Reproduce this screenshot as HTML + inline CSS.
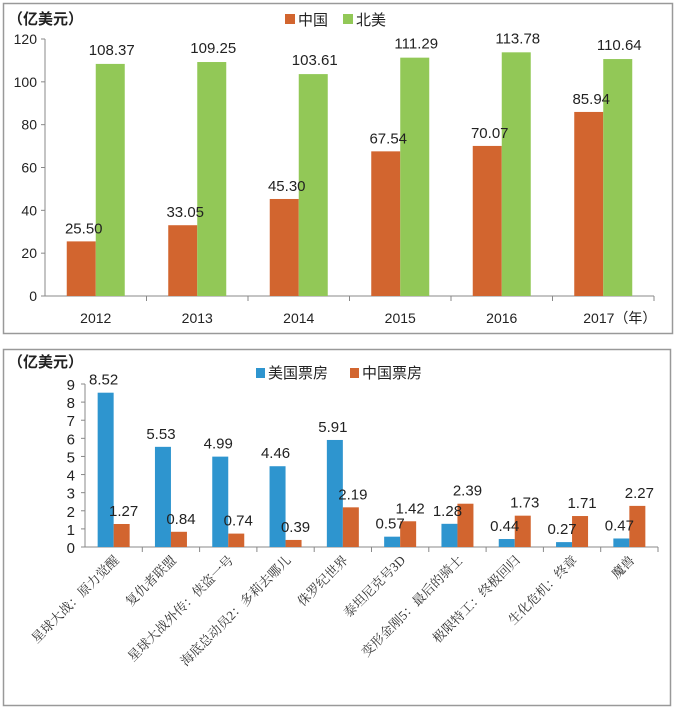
<!DOCTYPE html>
<html><head><meta charset="utf-8"><style>
body{margin:0;background:#fff;width:700px;height:710px;overflow:hidden}
svg{display:block}
text{font-family:"Liberation Sans","Noto Sans CJK SC",sans-serif;fill:#222}
.cat{font-family:"Liberation Serif","Noto Serif CJK SC",serif;font-size:13px;fill:#333}
</style></head><body>
<svg id="s" width="700" height="710">
<rect x="3.5" y="3.5" width="669" height="330" fill="#fff" stroke="#999" stroke-width="1.5"/>
<rect x="3.5" y="349.5" width="667" height="356" fill="#fff" stroke="#999" stroke-width="1.5"/>
<text x="8" y="24" font-size="15" font-weight="bold">（亿美元）</text>
<rect x="285" y="14" width="10" height="10" fill="#d2652f"/>
<text x="298" y="25" font-size="15">中国</text>
<rect x="343" y="14" width="10" height="10" fill="#92c857"/>
<text x="356" y="25" font-size="15">北美</text>
<text x="8" y="367" font-size="15" font-weight="bold">（亿美元）</text>
<rect x="256" y="368" width="9" height="10" fill="#2e95cf"/>
<text x="268" y="378" font-size="15">美国票房</text>
<rect x="350" y="368" width="9" height="10" fill="#d2652f"/>
<text x="362" y="378" font-size="15">中国票房</text>
</svg>
<script>
const years=["2012","2013","2014","2015","2016","2017（年）"];
const china=[25.50,33.05,45.30,67.54,70.07,85.94];
const northAmerica=[108.37,109.25,103.61,111.29,113.78,110.64];
const topTicks=[0,20,40,60,80,100,120];
const films=["星球大战：原力觉醒","复仇者联盟","星球大战外传：侠盗一号","海底总动员2：多莉去哪儿","侏罗纪世界","泰坦尼克号3D","变形金刚5：最后的骑士","极限特工：终极回归","生化危机：终章","魔兽"];
const usBox=[8.52,5.53,4.99,4.46,5.91,0.57,1.28,0.44,0.27,0.47];
const cnBox=[1.27,0.84,0.74,0.39,2.19,1.42,2.39,1.73,1.71,2.27];
const bottomTicks=[0,1,2,3,4,5,6,7,8,9];
const svg=document.getElementById('s');
const NS='http://www.w3.org/2000/svg';
function mk(tag,at,txt){const e=document.createElementNS(NS,tag);for(const k in at)e.setAttribute(k,at[k]);if(txt!==undefined)e.textContent=txt;svg.appendChild(e);return e;}
// top chart
const tX0=45,tX1=654,tY0=296,tY1=39,tMax=120;
const ty=v=>tY0-(tY0-tY1)*v/tMax;
const tBand=(tX1-tX0)/years.length;
const tx=i=>tX0+tBand*(i+0.5);
let e=mk('line',{x1:tX0,y1:tY1,x2:tX0,y2:tY0,stroke:'#888'});

e=mk('line',{x1:tX0,y1:tY0,x2:tX1,y2:tY0,stroke:'#888'});

topTicks.forEach(v=>{
 let t=mk('line',{x1:tX0-4,y1:ty(v),x2:tX0,y2:ty(v),stroke:'#888'});
 
 t=mk('text',{x:tX0-8,y:ty(v)+5,'font-size':14,'text-anchor':'end'},v);
 
});
years.forEach((y,i)=>{
 let t=mk('line',{x1:tX0+tBand*(i+1),y1:tY0,x2:tX0+tBand*(i+1),y2:tY0+5,stroke:'#888'});
 
 const c=tx(i);
 t=mk('text',{x:i===5?c-20:c,y:tY0+27,'font-size':14,'text-anchor':i===5?'start':'middle'},y);
 
 let b=mk('rect',{x:c-29,y:ty(china[i]),width:29,height:tY0-ty(china[i]),fill:'#d2652f'});
 
 b=mk('rect',{x:c,y:ty(northAmerica[i]),width:29,height:tY0-ty(northAmerica[i]),fill:'#92c857'});
 
 t=mk('text',{x:c-12,y:ty(china[i])-8,'font-size':15,'text-anchor':'middle'},china[i].toFixed(2));
 
 t=mk('text',{x:c+16,y:ty(northAmerica[i])-9,'font-size':15,'text-anchor':'middle'},northAmerica[i].toFixed(2));
 
});
// bottom chart
const bX0=85,bX1=658,bY0=547,bY1=384,bMax=9;
const by=v=>bY0-(bY0-bY1)*v/bMax;
const bBand=(bX1-bX0)/films.length;
const bx=i=>bX0+bBand*(i+0.5);
e=mk('line',{x1:bX0,y1:bY1,x2:bX0,y2:bY0,stroke:'#888'});

e=mk('line',{x1:bX0,y1:bY0,x2:bX1,y2:bY0,stroke:'#888'});

bottomTicks.forEach(v=>{
 let t=mk('line',{x1:bX0-4,y1:by(v),x2:bX0,y2:by(v),stroke:'#888'});
 
 t=mk('text',{x:bX0-10,y:by(v)+6,'font-size':15,'text-anchor':'end'},v);
 
});
films.forEach((f,i)=>{
 let t=mk('line',{x1:bX0+bBand*(i+1),y1:bY0,x2:bX0+bBand*(i+1),y2:bY0+5,stroke:'#888'});
 
 const c=bx(i);
 let b=mk('rect',{x:c-16,y:by(usBox[i]),width:16,height:bY0-by(usBox[i]),fill:'#2e95cf'});
 
 b=mk('rect',{x:c,y:by(cnBox[i]),width:16,height:bY0-by(cnBox[i]),fill:'#d2652f'});
 
 t=mk('text',{x:c-10,y:by(usBox[i])-8,'font-size':15,'text-anchor':'middle'},usBox[i].toFixed(2));
 
 t=mk('text',{x:c+10,y:by(cnBox[i])-8,'font-size':15,'text-anchor':'middle'},cnBox[i].toFixed(2));
 
 t=mk('text',{x:c+6,y:bY0+14,'class':'cat','text-anchor':'end',transform:`rotate(-45 ${c+6} ${bY0+14})`},f);
 
});
</script>
</body></html>
